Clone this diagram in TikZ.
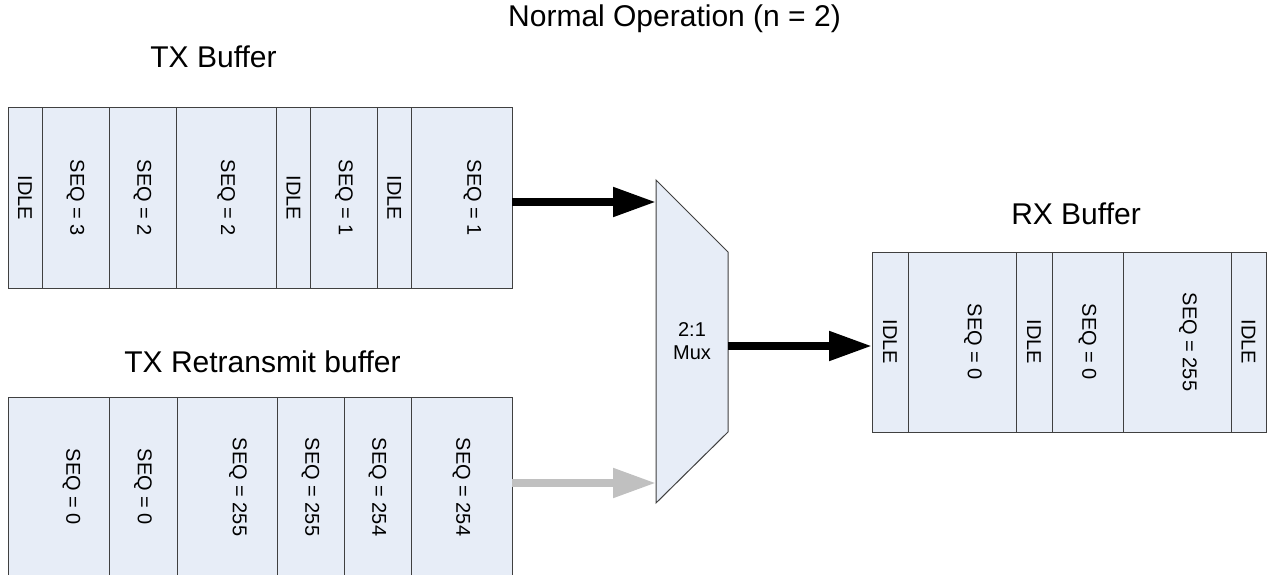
\documentclass[tikz,border=0pt]{standalone}
\usepackage{fontspec}
\setmainfont{Liberation Sans}
\usetikzlibrary{positioning,arrows.meta}
\definecolor{cellfill}{RGB}{231,237,247}
\definecolor{edgegray}{RGB}{64,64,64}
\definecolor{offgray}{RGB}{192,192,192}
\newcommand{\vtext}[2][0pt]{\hspace*{#1}\rotatebox{-90}{#2}}
\begin{document}
\begin{tikzpicture}[x=1pt, y=-1pt,
	cell/.style={draw=edgegray, line width=1pt, fill=cellfill,
				 minimum width=#1, minimum height=180pt,
				 inner sep=0pt, outer sep=0pt,
				 font=\fontsize{20}{24}\selectfont},
	heading/.style={anchor=base, font=\fontsize{30}{36}\selectfont},
	bigarrow/.style={line width=8pt, -{Triangle[length=43pt, width=28pt]}}]
	\useasboundingbox (0,0) rectangle (1267,575);

	\draw (674.5,27) node[heading](title){Normal Operation (n = 2)};
	\draw (213.5,68) node[heading](txlabel){TX Buffer};
	\draw (1076,225) node[heading](rxlabel){RX Buffer};
	\draw (262.5,372.5) node[heading](rtlabel){TX Retransmit buffer};

	\draw (8,108) node[cell=34, anchor=north west](tx1){\vtext{IDLE}};
	\draw node[cell=67, right=0pt of tx1](tx2){\vtext{SEQ = 3}};
	\draw node[cell=67, right=0pt of tx2](tx3){\vtext{SEQ = 2}};
	\draw node[cell=100.5, right=0pt of tx3](tx4){\vtext{SEQ = 2}};
	\draw node[cell=34, right=0pt of tx4](tx5){\vtext{IDLE}};
	\draw node[cell=67, right=0pt of tx5](tx6){\vtext{SEQ = 1}};
	\draw node[cell=33.5, right=0pt of tx6](tx7){\vtext{IDLE}};
	\draw node[cell=101, right=0pt of tx7](tx8){\vtext[22pt]{SEQ = 1}};

	\draw (8,397) node[cell=101, anchor=north west](rt1){\vtext[26pt]{SEQ = 0}};
	\draw node[cell=68, right=0pt of rt1](rt2){\vtext{SEQ = 0}};
	\draw node[cell=100, right=0pt of rt2](rt3){\vtext[22pt]{SEQ = 255}};
	\draw node[cell=67, right=0pt of rt3](rt4){\vtext{SEQ = 255}};
	\draw node[cell=67, right=0pt of rt4](rt5){\vtext{SEQ = 254}};
	\draw node[cell=101, right=0pt of rt5](rt6){\vtext{SEQ = 254}};

	\draw (872,252) node[cell=36, anchor=north west](rx1){\vtext{IDLE}};
	\draw node[cell=108, right=0pt of rx1](rx2){\vtext[22pt]{SEQ = 0}};
	\draw node[cell=36, right=0pt of rx2](rx3){\vtext{IDLE}};
	\draw node[cell=71, right=0pt of rx3](rx4){\vtext{SEQ = 0}};
	\draw node[cell=108, right=0pt of rx4](rx5){\vtext[22pt]{SEQ = 255}};
	\draw node[cell=35, right=0pt of rx5](rx6){\vtext{IDLE}};

	\draw (692,341.5) node[minimum width=72pt, minimum height=323pt,
						   inner sep=0pt, outer sep=0pt](mux){};
	\draw [draw=edgegray, line width=1pt, fill=cellfill](mux.north west)
		-- ([yshift=-72pt]mux.north east) -- ([yshift=71pt]mux.south east)
		-- (mux.south west) -- cycle;
	\draw (mux.center) node[align=center,
							font=\fontsize{20}{23}\selectfont](muxlabel){2:1\\Mux};
	\coordinate (muxa) at ([yshift=-22pt]mux.north west);
	\coordinate (muxb) at ([yshift=20pt]mux.south west);
	\coordinate (muxo) at ([yshift=-4.5pt]mux.east);

	\draw [bigarrow](tx8.east |- muxa) -- (muxa);
	\draw [bigarrow, color=offgray](rt6.east |- muxb) -- (muxb);
	\draw [bigarrow](muxo) -- (muxo -| rx1.west);
\end{tikzpicture}
\end{document}
